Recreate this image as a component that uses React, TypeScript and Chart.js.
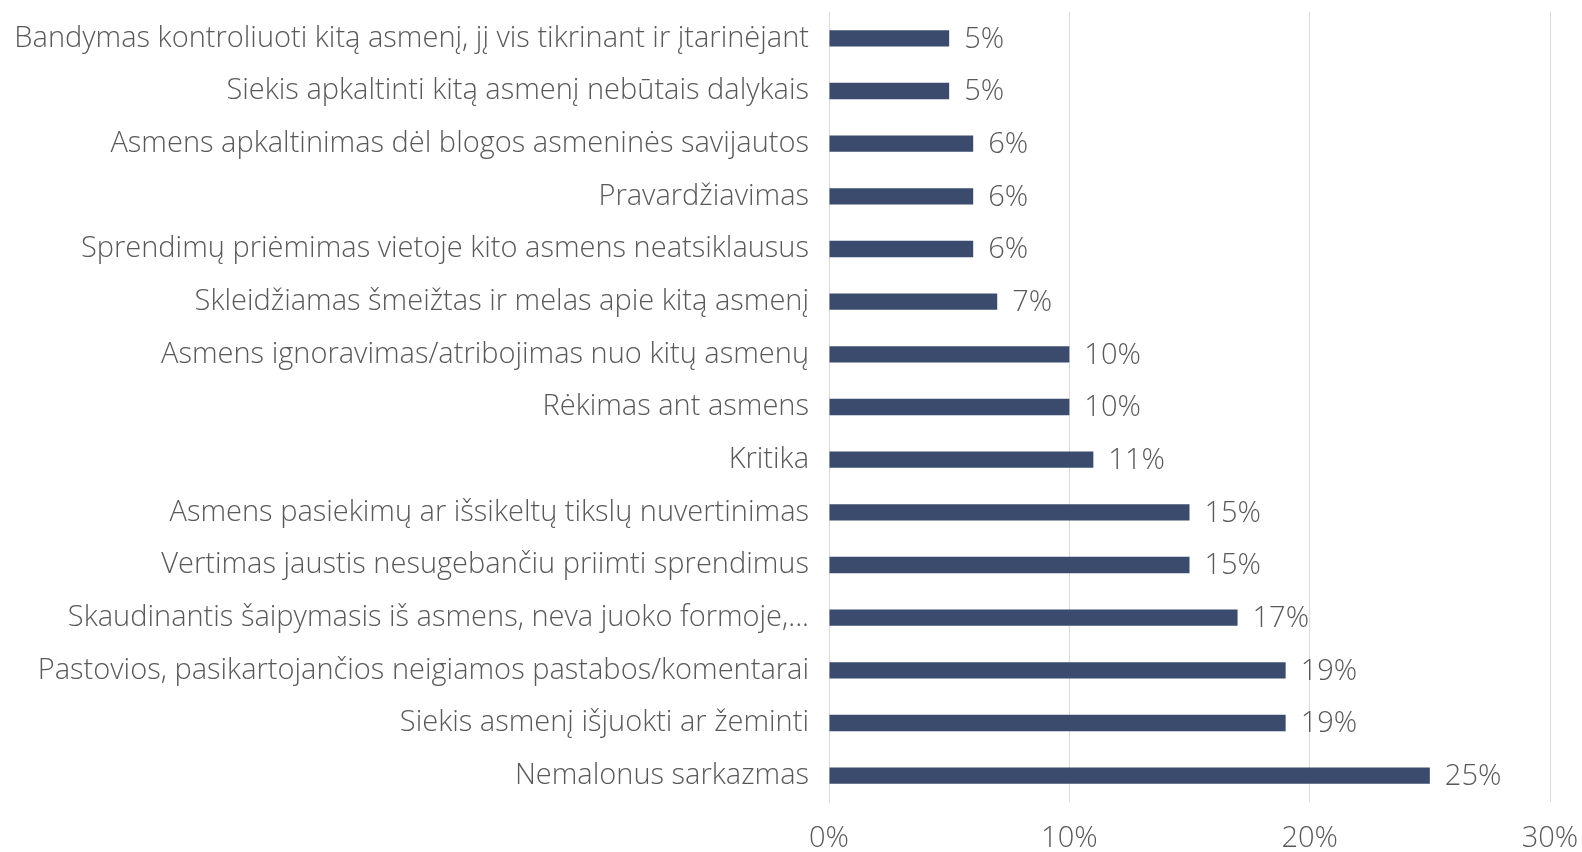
import React, { useEffect, useRef } from "react";
import { Chart, registerables } from "chart.js";

Chart.register(...registerables);

const categories = [
  "Bandymas kontroliuoti kitą asmenį, jį vis tikrinant ir įtarinėjant",
  "Siekis apkaltinti kitą asmenį nebūtais dalykais",
  "Asmens apkaltinimas dėl blogos asmeninės savijautos",
  "Pravardžiavimas",
  "Sprendimų priėmimas vietoje kito asmens neatsiklausus",
  "Skleidžiamas šmeižtas ir melas apie kitą asmenį",
  "Asmens ignoravimas/atribojimas nuo kitų asmenų",
  "Rėkimas ant asmens",
  "Kritika",
  "Asmens pasiekimų ar išsikeltų tikslų nuvertinimas",
  "Vertimas jaustis nesugebančiu priimti sprendimus",
  "Skaudinantis šaipymasis iš asmens, neva juoko formoje,...",
  "Pastovios, pasikartojančios neigiamos pastabos/komentarai",
  "Siekis asmenį išjuokti ar žeminti",
  "Nemalonus sarkazmas",
];

const values = [5, 5, 6, 6, 6, 7, 10, 10, 11, 15, 15, 17, 19, 19, 25];

const xTicks = [0, 10, 20, 30];

const FONT = "'Open Sans', 'Noto Sans', sans-serif";
const TEXT = "#595959";
const SIZE = 29;

const valueLabels = {
  id: "valueLabels",
  afterDatasetsDraw(chart: any) {
    const ctx = chart.ctx;
    const meta = chart.getDatasetMeta(0);
    ctx.save();
    ctx.font = `300 ${SIZE}px ${FONT}`;
    ctx.fillStyle = TEXT;
    ctx.textAlign = "left";
    ctx.textBaseline = "middle";
    meta.data.forEach((bar: any, i: number) => {
      ctx.fillText(values[i] + "%", bar.x + 15, bar.y + 1);
    });
    ctx.restore();
  },
};

export default function App() {
  const ref = useRef<HTMLCanvasElement>(null);
  useEffect(() => {
    document.body.style.margin = "0";
    document.body.style.overflow = "hidden";
    const chart = new Chart(ref.current!, {
      type: "bar",
      data: {
        labels: categories,
        datasets: [
          {
            data: values,
            backgroundColor: "#3B4B6D",
            borderWidth: 0,
            barPercentage: 0.31,
            categoryPercentage: 1,
          },
        ],
      },
      options: {
        indexAxis: "y",
        animation: false,
        responsive: false,
        maintainAspectRatio: false,
        layout: { padding: { top: 12, right: 32, left: 0, bottom: 0 } },
        plugins: { legend: { display: false }, tooltip: { enabled: false } },
        scales: {
          x: {
            min: 0,
            max: 30,
            afterBuildTicks: (s: any) => {
              s.ticks = xTicks.map((v) => ({ value: v }));
            },
            afterFit: (s: any) => {
              s.height = 50;
              s.paddingLeft = 0;
              s.paddingRight = 0;
            },
            grid: { color: "#D9D9D9", lineWidth: 1, drawTicks: false },
            border: { display: false },
            ticks: {
              padding: 19,
              color: TEXT,
              font: { family: FONT, size: SIZE, weight: "300" as any },
              callback: (v: any) => v + "%",
            },
          },
          y: {
            afterFit: (s: any) => {
              s.width = 829;
              s.paddingTop = 0;
              s.paddingBottom = 0;
            },
            grid: { display: false, drawTicks: false },
            border: { display: true, color: "#D9D9D9", width: 1 },
            ticks: {
              padding: 20,
              color: TEXT,
              font: { family: FONT, size: SIZE, weight: "300" as any },
              autoSkip: false,
            },
          },
        },
      },
      plugins: [valueLabels],
    });
    return () => chart.destroy();
  }, []);
  return (
    <div style={{ width: 1582, height: 852 }}>
      <canvas ref={ref} width={1582} height={852} style={{ display: "block" }} />
    </div>
  );
}
